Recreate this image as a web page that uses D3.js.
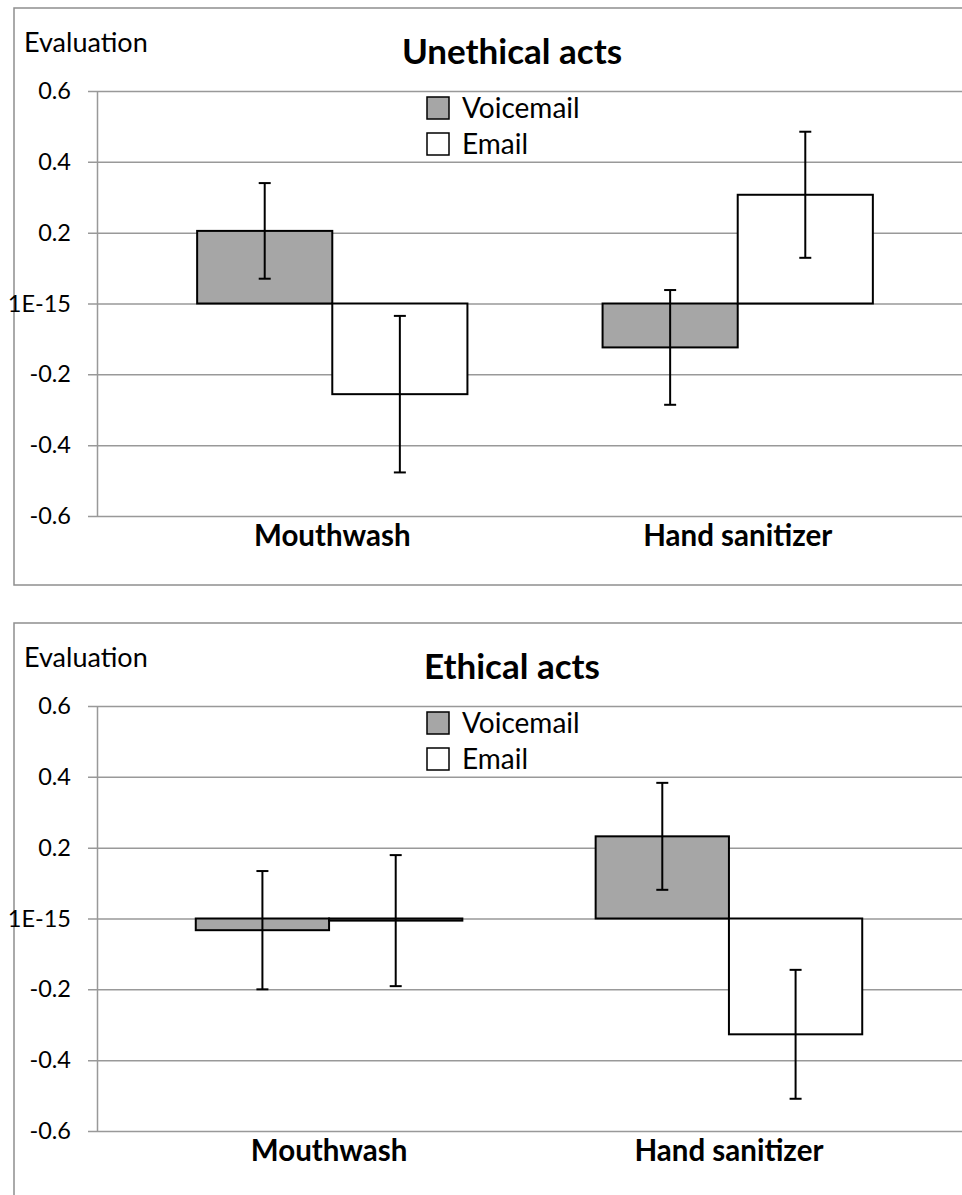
<!DOCTYPE html>
<html>
<head>
<meta charset="utf-8">
<script src="https://cdn.jsdelivr.net/npm/d3@7"></script>
<style>
  html, body { margin: 0; padding: 0; background: #fff; }
  svg { display: block; font-family: Lato, "Open Sans", sans-serif; }
</style>
</head>
<body>
<svg id="chart" width="962" height="1195"></svg>
<script>
// ---- data ----
const categories = ["Mouthwash", "Hand sanitizer"];
const seriesNames = ["Voicemail", "Email"];
const seriesFills = ["#a6a6a6", "#ffffff"];

const unethicalTitle = "Unethical acts";
const unethicalVoicemail = [0.205, -0.124];
const unethicalEmail = [-0.256, 0.307];
const unethicalVoicemailErr = [0.135, 0.162];
const unethicalEmailErr = [0.221, 0.178];

const ethicalTitle = "Ethical acts";
const ethicalVoicemail = [-0.033, 0.232];
const ethicalEmail = [-0.006, -0.327];
const ethicalVoicemailErr = [0.167, 0.151];
const ethicalEmailErr = [0.185, 0.182];

const yTicks = [-0.6, -0.4, -0.2, 0, 0.2, 0.4, 0.6];
const yTickLabels = ["-0.6", "-0.4", "-0.2", "1E-15", "0.2", "0.4", "0.6"];
const yAxisTitle = "Evaluation";

// ---- drawing ----
const svg = d3.select("#chart");
const gridColor = "#999999";

function drawPanel(offsetY, title, vm, em, vmErr, emErr, plotRight) {
  const g = svg.append("g").attr("transform", `translate(0,${offsetY})`);

  // panel border (extends past right/bottom edge like the cropped original)
  g.append("rect")
    .attr("x", 14).attr("y", 8)
    .attr("width", 1000).attr("height", 577)
    .attr("fill", "none").attr("stroke", "#8f8f8f").attr("stroke-width", 1.5);

  const left = 97, top = 91, bottom = 516;
  const y = d3.scaleLinear().domain([-0.6, 0.6]).range([bottom, top]);
  const x0 = d3.scaleBand().domain(categories).range([left, plotRight])
    .paddingInner(1 / 3).paddingOuter(0.247);
  const x1 = d3.scaleBand().domain(seriesNames).range([0, x0.bandwidth()]);

  // y axis with gridlines
  const yAxis = d3.axisLeft(y)
    .tickValues(yTicks)
    .tickFormat((d, i) => yTickLabels[i])
    .tickSizeInner(-(plotRight + 40 - left))
    .tickSizeOuter(0)
    .tickPadding(26);
  const ya = g.append("g").attr("transform", `translate(${left},0)`).call(yAxis);
  ya.selectAll(".tick line").attr("x1", -9).attr("stroke", gridColor).attr("stroke-width", 1.5);
  ya.select(".domain").attr("stroke", gridColor).attr("stroke-width", 1.5);
  ya.selectAll(".tick text")
    .attr("fill", "#000").style("font-family", "Lato, sans-serif").style("font-size", "23.5px");

  // x axis labels
  const xAxis = d3.axisBottom(x0).tickSize(0).tickPadding(9);
  const xa = g.append("g").attr("transform", `translate(0,${bottom})`).call(xAxis);
  xa.select(".domain").remove();
  xa.selectAll(".tick text")
    .attr("fill", "#000").style("font-family", "Lato, sans-serif")
    .style("font-size", "29.5px").style("font-weight", "bold");

  // bars
  const rows = [];
  categories.forEach((c, i) => {
    rows.push({ cat: c, s: seriesNames[0], v: vm[i], e: vmErr[i], fill: seriesFills[0] });
    rows.push({ cat: c, s: seriesNames[1], v: em[i], e: emErr[i], fill: seriesFills[1] });
  });

  g.append("g").selectAll("rect").data(rows).join("rect")
    .attr("x", d => x0(d.cat) + x1(d.s))
    .attr("width", x1.bandwidth())
    .attr("y", d => y(Math.max(0, d.v)))
    .attr("height", d => Math.abs(y(d.v) - y(0)))
    .attr("fill", d => d.fill)
    .attr("stroke", "#000").attr("stroke-width", 2);

  // error bars
  const eb = g.append("g").selectAll("g").data(rows).join("g")
    .attr("stroke", "#000").attr("stroke-width", 2);
  const cx = d => x0(d.cat) + x1(d.s) + x1.bandwidth() / 2;
  eb.append("line")
    .attr("x1", cx).attr("x2", cx)
    .attr("y1", d => y(d.v + d.e)).attr("y2", d => y(d.v - d.e));
  eb.append("line")
    .attr("x1", d => cx(d) - 6).attr("x2", d => cx(d) + 6)
    .attr("y1", d => y(d.v + d.e)).attr("y2", d => y(d.v + d.e));
  eb.append("line")
    .attr("x1", d => cx(d) - 6).attr("x2", d => cx(d) + 6)
    .attr("y1", d => y(d.v - d.e)).attr("y2", d => y(d.v - d.e));

  // axis title
  g.append("text").attr("x", 24).attr("y", 52)
    .style("font-size", "27px").text(yAxisTitle);

  // chart title
  g.append("text").attr("x", 512).attr("y", 64)
    .attr("text-anchor", "middle")
    .style("font-size", "35px").style("font-weight", "bold").text(title);

  // legend
  const lg = g.append("g").selectAll("g").data(seriesNames).join("g")
    .attr("transform", (d, i) => `translate(427,${108 + i * 36})`);
  lg.append("rect").attr("x", 0).attr("y", -11).attr("width", 22).attr("height", 22)
    .attr("fill", (d, i) => seriesFills[i]).attr("stroke", "#000").attr("stroke-width", 1.5);
  lg.append("text").attr("x", 35).attr("y", 0).attr("dy", "0.35em")
    .style("font-size", "28px").text(d => d);
}

drawPanel(0, unethicalTitle, unethicalVoicemail, unethicalEmail,
  unethicalVoicemailErr, unethicalEmailErr, 973);
drawPanel(615, ethicalTitle, ethicalVoicemail, ethicalEmail,
  ethicalVoicemailErr, ethicalEmailErr, 961);
</script>
</body>
</html>
